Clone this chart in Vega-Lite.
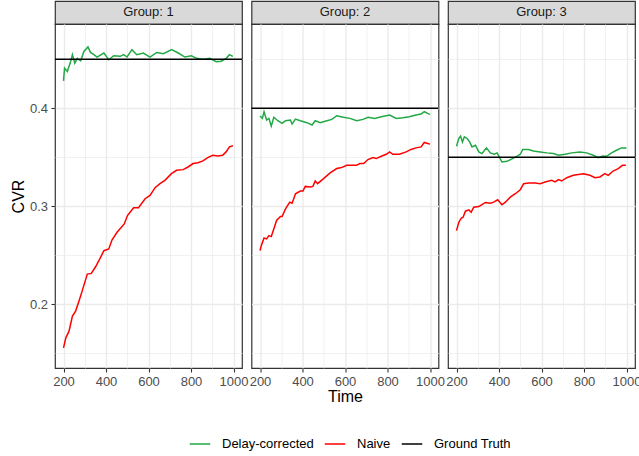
{
  "$schema": "https://vega.github.io/schema/vega-lite/v6.json",
  "background": "white",
  "padding": {"left": 9, "top": 0, "right": 4, "bottom": 5},
  "datasets": {
    "cvr": [
      {"Group":1,"Series":"Delay-corrected","Time":200,"CVR":0.428},{"Group":1,"Series":"Delay-corrected","Time":205,"CVR":0.441},{"Group":1,"Series":"Delay-corrected","Time":218,"CVR":0.4375},{"Group":1,"Series":"Delay-corrected","Time":234,"CVR":0.448},{"Group":1,"Series":"Delay-corrected","Time":242,"CVR":0.4547},{"Group":1,"Series":"Delay-corrected","Time":253,"CVR":0.446},{"Group":1,"Series":"Delay-corrected","Time":265,"CVR":0.451},{"Group":1,"Series":"Delay-corrected","Time":281,"CVR":0.4485},{"Group":1,"Series":"Delay-corrected","Time":296,"CVR":0.458},{"Group":1,"Series":"Delay-corrected","Time":315,"CVR":0.4626},{"Group":1,"Series":"Delay-corrected","Time":327,"CVR":0.457},{"Group":1,"Series":"Delay-corrected","Time":343,"CVR":0.4547},{"Group":1,"Series":"Delay-corrected","Time":358,"CVR":0.4523},{"Group":1,"Series":"Delay-corrected","Time":390,"CVR":0.4564},{"Group":1,"Series":"Delay-corrected","Time":413,"CVR":0.4495},{"Group":1,"Series":"Delay-corrected","Time":436,"CVR":0.4536},{"Group":1,"Series":"Delay-corrected","Time":467,"CVR":0.453},{"Group":1,"Series":"Delay-corrected","Time":483,"CVR":0.4547},{"Group":1,"Series":"Delay-corrected","Time":499,"CVR":0.4523},{"Group":1,"Series":"Delay-corrected","Time":522,"CVR":0.4598},{"Group":1,"Series":"Delay-corrected","Time":545,"CVR":0.4547},{"Group":1,"Series":"Delay-corrected","Time":576,"CVR":0.4564},{"Group":1,"Series":"Delay-corrected","Time":607,"CVR":0.4523},{"Group":1,"Series":"Delay-corrected","Time":639,"CVR":0.457},{"Group":1,"Series":"Delay-corrected","Time":670,"CVR":0.4557},{"Group":1,"Series":"Delay-corrected","Time":709,"CVR":0.4598},{"Group":1,"Series":"Delay-corrected","Time":740,"CVR":0.4564},{"Group":1,"Series":"Delay-corrected","Time":771,"CVR":0.4523},{"Group":1,"Series":"Delay-corrected","Time":802,"CVR":0.4536},{"Group":1,"Series":"Delay-corrected","Time":826,"CVR":0.451},{"Group":1,"Series":"Delay-corrected","Time":856,"CVR":0.45},{"Group":1,"Series":"Delay-corrected","Time":888,"CVR":0.451},{"Group":1,"Series":"Delay-corrected","Time":919,"CVR":0.4475},{"Group":1,"Series":"Delay-corrected","Time":942,"CVR":0.448},{"Group":1,"Series":"Delay-corrected","Time":966,"CVR":0.451},{"Group":1,"Series":"Delay-corrected","Time":981,"CVR":0.4547},{"Group":1,"Series":"Delay-corrected","Time":997,"CVR":0.453},
      {"Group":1,"Series":"Naive","Time":200,"CVR":0.1555},{"Group":1,"Series":"Naive","Time":211,"CVR":0.1658},{"Group":1,"Series":"Naive","Time":226,"CVR":0.1726},{"Group":1,"Series":"Naive","Time":242,"CVR":0.188},{"Group":1,"Series":"Naive","Time":257,"CVR":0.1931},{"Group":1,"Series":"Naive","Time":273,"CVR":0.2034},{"Group":1,"Series":"Naive","Time":288,"CVR":0.2137},{"Group":1,"Series":"Naive","Time":312,"CVR":0.2308},{"Group":1,"Series":"Naive","Time":331,"CVR":0.2315},{"Group":1,"Series":"Naive","Time":351,"CVR":0.2383},{"Group":1,"Series":"Naive","Time":370,"CVR":0.246},{"Group":1,"Series":"Naive","Time":390,"CVR":0.2547},{"Group":1,"Series":"Naive","Time":413,"CVR":0.2564},{"Group":1,"Series":"Naive","Time":428,"CVR":0.2656},{"Group":1,"Series":"Naive","Time":452,"CVR":0.2735},{"Group":1,"Series":"Naive","Time":486,"CVR":0.282},{"Group":1,"Series":"Naive","Time":501,"CVR":0.2906},{"Group":1,"Series":"Naive","Time":530,"CVR":0.2985},{"Group":1,"Series":"Naive","Time":553,"CVR":0.2985},{"Group":1,"Series":"Naive","Time":584,"CVR":0.3077},{"Group":1,"Series":"Naive","Time":607,"CVR":0.3111},{"Group":1,"Series":"Naive","Time":631,"CVR":0.319},{"Group":1,"Series":"Naive","Time":654,"CVR":0.3231},{"Group":1,"Series":"Naive","Time":677,"CVR":0.3265},{"Group":1,"Series":"Naive","Time":708,"CVR":0.3333},{"Group":1,"Series":"Naive","Time":732,"CVR":0.3367},{"Group":1,"Series":"Naive","Time":763,"CVR":0.3374},{"Group":1,"Series":"Naive","Time":786,"CVR":0.3401},{"Group":1,"Series":"Naive","Time":810,"CVR":0.3436},{"Group":1,"Series":"Naive","Time":833,"CVR":0.3445},{"Group":1,"Series":"Naive","Time":856,"CVR":0.3463},{"Group":1,"Series":"Naive","Time":879,"CVR":0.3497},{"Group":1,"Series":"Naive","Time":902,"CVR":0.3521},{"Group":1,"Series":"Naive","Time":926,"CVR":0.3514},{"Group":1,"Series":"Naive","Time":949,"CVR":0.3521},{"Group":1,"Series":"Naive","Time":965,"CVR":0.3555},{"Group":1,"Series":"Naive","Time":981,"CVR":0.3606},{"Group":1,"Series":"Naive","Time":997,"CVR":0.3617},
      {"Group":1,"Series":"Ground Truth","CVR":0.45},
      {"Group":2,"Series":"Delay-corrected","Time":200,"CVR":0.3921},{"Group":2,"Series":"Delay-corrected","Time":211,"CVR":0.3897},{"Group":2,"Series":"Delay-corrected","Time":219,"CVR":0.3965},{"Group":2,"Series":"Delay-corrected","Time":231,"CVR":0.388},{"Group":2,"Series":"Delay-corrected","Time":242,"CVR":0.3897},{"Group":2,"Series":"Delay-corrected","Time":253,"CVR":0.3818},{"Group":2,"Series":"Delay-corrected","Time":265,"CVR":0.3908},{"Group":2,"Series":"Delay-corrected","Time":284,"CVR":0.3873},{"Group":2,"Series":"Delay-corrected","Time":304,"CVR":0.3846},{"Group":2,"Series":"Delay-corrected","Time":320,"CVR":0.3873},{"Group":2,"Series":"Delay-corrected","Time":343,"CVR":0.388},{"Group":2,"Series":"Delay-corrected","Time":351,"CVR":0.3839},{"Group":2,"Series":"Delay-corrected","Time":367,"CVR":0.389},{"Group":2,"Series":"Delay-corrected","Time":390,"CVR":0.3873},{"Group":2,"Series":"Delay-corrected","Time":421,"CVR":0.3853},{"Group":2,"Series":"Delay-corrected","Time":445,"CVR":0.3829},{"Group":2,"Series":"Delay-corrected","Time":460,"CVR":0.3873},{"Group":2,"Series":"Delay-corrected","Time":483,"CVR":0.3853},{"Group":2,"Series":"Delay-corrected","Time":515,"CVR":0.3873},{"Group":2,"Series":"Delay-corrected","Time":538,"CVR":0.3887},{"Group":2,"Series":"Delay-corrected","Time":561,"CVR":0.3924},{"Group":2,"Series":"Delay-corrected","Time":592,"CVR":0.3908},{"Group":2,"Series":"Delay-corrected","Time":623,"CVR":0.3897},{"Group":2,"Series":"Delay-corrected","Time":655,"CVR":0.3873},{"Group":2,"Series":"Delay-corrected","Time":685,"CVR":0.3887},{"Group":2,"Series":"Delay-corrected","Time":709,"CVR":0.3908},{"Group":2,"Series":"Delay-corrected","Time":740,"CVR":0.3897},{"Group":2,"Series":"Delay-corrected","Time":771,"CVR":0.3914},{"Group":2,"Series":"Delay-corrected","Time":810,"CVR":0.3931},{"Group":2,"Series":"Delay-corrected","Time":841,"CVR":0.3897},{"Group":2,"Series":"Delay-corrected","Time":872,"CVR":0.3904},{"Group":2,"Series":"Delay-corrected","Time":903,"CVR":0.3914},{"Group":2,"Series":"Delay-corrected","Time":934,"CVR":0.3931},{"Group":2,"Series":"Delay-corrected","Time":958,"CVR":0.3941},{"Group":2,"Series":"Delay-corrected","Time":973,"CVR":0.3965},{"Group":2,"Series":"Delay-corrected","Time":989,"CVR":0.3948},{"Group":2,"Series":"Delay-corrected","Time":1000,"CVR":0.3938},
      {"Group":2,"Series":"Naive","Time":200,"CVR":0.2547},{"Group":2,"Series":"Naive","Time":206,"CVR":0.2598},{"Group":2,"Series":"Naive","Time":219,"CVR":0.2677},{"Group":2,"Series":"Naive","Time":231,"CVR":0.2667},{"Group":2,"Series":"Naive","Time":242,"CVR":0.2701},{"Group":2,"Series":"Naive","Time":253,"CVR":0.2691},{"Group":2,"Series":"Naive","Time":265,"CVR":0.2769},{"Group":2,"Series":"Naive","Time":278,"CVR":0.2855},{"Group":2,"Series":"Naive","Time":296,"CVR":0.2895},{"Group":2,"Series":"Naive","Time":304,"CVR":0.2895},{"Group":2,"Series":"Naive","Time":320,"CVR":0.2974},{"Group":2,"Series":"Naive","Time":340,"CVR":0.3042},{"Group":2,"Series":"Naive","Time":351,"CVR":0.3032},{"Group":2,"Series":"Naive","Time":367,"CVR":0.3128},{"Group":2,"Series":"Naive","Time":390,"CVR":0.3155},{"Group":2,"Series":"Naive","Time":402,"CVR":0.3155},{"Group":2,"Series":"Naive","Time":413,"CVR":0.3203},{"Group":2,"Series":"Naive","Time":436,"CVR":0.3197},{"Group":2,"Series":"Naive","Time":449,"CVR":0.3203},{"Group":2,"Series":"Naive","Time":460,"CVR":0.3258},{"Group":2,"Series":"Naive","Time":471,"CVR":0.3231},{"Group":2,"Series":"Naive","Time":499,"CVR":0.3282},{"Group":2,"Series":"Naive","Time":530,"CVR":0.334},{"Group":2,"Series":"Naive","Time":561,"CVR":0.3385},{"Group":2,"Series":"Naive","Time":584,"CVR":0.3395},{"Group":2,"Series":"Naive","Time":608,"CVR":0.3418},{"Group":2,"Series":"Naive","Time":654,"CVR":0.3418},{"Group":2,"Series":"Naive","Time":670,"CVR":0.3436},{"Group":2,"Series":"Naive","Time":688,"CVR":0.3436},{"Group":2,"Series":"Naive","Time":708,"CVR":0.3477},{"Group":2,"Series":"Naive","Time":732,"CVR":0.3497},{"Group":2,"Series":"Naive","Time":747,"CVR":0.3487},{"Group":2,"Series":"Naive","Time":771,"CVR":0.3511},{"Group":2,"Series":"Naive","Time":794,"CVR":0.3531},{"Group":2,"Series":"Naive","Time":810,"CVR":0.3555},{"Group":2,"Series":"Naive","Time":825,"CVR":0.3531},{"Group":2,"Series":"Naive","Time":856,"CVR":0.3531},{"Group":2,"Series":"Naive","Time":888,"CVR":0.3555},{"Group":2,"Series":"Naive","Time":911,"CVR":0.358},{"Group":2,"Series":"Naive","Time":934,"CVR":0.3596},{"Group":2,"Series":"Naive","Time":958,"CVR":0.3606},{"Group":2,"Series":"Naive","Time":973,"CVR":0.3651},{"Group":2,"Series":"Naive","Time":989,"CVR":0.3641},{"Group":2,"Series":"Naive","Time":1000,"CVR":0.3634},
      {"Group":2,"Series":"Ground Truth","CVR":0.40},
      {"Group":3,"Series":"Delay-corrected","Time":200,"CVR":0.3613},{"Group":3,"Series":"Delay-corrected","Time":211,"CVR":0.3692},{"Group":3,"Series":"Delay-corrected","Time":219,"CVR":0.3716},{"Group":3,"Series":"Delay-corrected","Time":228,"CVR":0.3657},{"Group":3,"Series":"Delay-corrected","Time":237,"CVR":0.3709},{"Group":3,"Series":"Delay-corrected","Time":250,"CVR":0.3692},{"Group":3,"Series":"Delay-corrected","Time":262,"CVR":0.3657},{"Group":3,"Series":"Delay-corrected","Time":273,"CVR":0.3606},{"Group":3,"Series":"Delay-corrected","Time":289,"CVR":0.3623},{"Group":3,"Series":"Delay-corrected","Time":305,"CVR":0.3555},{"Group":3,"Series":"Delay-corrected","Time":320,"CVR":0.3538},{"Group":3,"Series":"Delay-corrected","Time":341,"CVR":0.3596},{"Group":3,"Series":"Delay-corrected","Time":359,"CVR":0.3545},{"Group":3,"Series":"Delay-corrected","Time":378,"CVR":0.3531},{"Group":3,"Series":"Delay-corrected","Time":391,"CVR":0.3545},{"Group":3,"Series":"Delay-corrected","Time":403,"CVR":0.3497},{"Group":3,"Series":"Delay-corrected","Time":414,"CVR":0.3452},{"Group":3,"Series":"Delay-corrected","Time":438,"CVR":0.3459},{"Group":3,"Series":"Delay-corrected","Time":461,"CVR":0.3483},{"Group":3,"Series":"Delay-corrected","Time":484,"CVR":0.351},{"Group":3,"Series":"Delay-corrected","Time":500,"CVR":0.3531},{"Group":3,"Series":"Delay-corrected","Time":512,"CVR":0.358},{"Group":3,"Series":"Delay-corrected","Time":539,"CVR":0.358},{"Group":3,"Series":"Delay-corrected","Time":562,"CVR":0.3565},{"Group":3,"Series":"Delay-corrected","Time":594,"CVR":0.3555},{"Group":3,"Series":"Delay-corrected","Time":625,"CVR":0.3545},{"Group":3,"Series":"Delay-corrected","Time":656,"CVR":0.3538},{"Group":3,"Series":"Delay-corrected","Time":680,"CVR":0.3521},{"Group":3,"Series":"Delay-corrected","Time":711,"CVR":0.3531},{"Group":3,"Series":"Delay-corrected","Time":742,"CVR":0.3545},{"Group":3,"Series":"Delay-corrected","Time":781,"CVR":0.3555},{"Group":3,"Series":"Delay-corrected","Time":812,"CVR":0.3545},{"Group":3,"Series":"Delay-corrected","Time":844,"CVR":0.3521},{"Group":3,"Series":"Delay-corrected","Time":867,"CVR":0.3497},{"Group":3,"Series":"Delay-corrected","Time":890,"CVR":0.3514},{"Group":3,"Series":"Delay-corrected","Time":906,"CVR":0.351},{"Group":3,"Series":"Delay-corrected","Time":930,"CVR":0.3545},{"Group":3,"Series":"Delay-corrected","Time":953,"CVR":0.3572},{"Group":3,"Series":"Delay-corrected","Time":976,"CVR":0.3596},{"Group":3,"Series":"Delay-corrected","Time":1000,"CVR":0.3596},
      {"Group":3,"Series":"Naive","Time":200,"CVR":0.2752},{"Group":3,"Series":"Naive","Time":211,"CVR":0.2837},{"Group":3,"Series":"Naive","Time":222,"CVR":0.2878},{"Group":3,"Series":"Naive","Time":231,"CVR":0.2888},{"Group":3,"Series":"Naive","Time":242,"CVR":0.295},{"Group":3,"Series":"Naive","Time":258,"CVR":0.2963},{"Group":3,"Series":"Naive","Time":269,"CVR":0.2939},{"Group":3,"Series":"Naive","Time":281,"CVR":0.2991},{"Group":3,"Series":"Naive","Time":305,"CVR":0.2997},{"Group":3,"Series":"Naive","Time":320,"CVR":0.3018},{"Group":3,"Series":"Naive","Time":336,"CVR":0.3039},{"Group":3,"Series":"Naive","Time":359,"CVR":0.3032},{"Group":3,"Series":"Naive","Time":375,"CVR":0.3042},{"Group":3,"Series":"Naive","Time":394,"CVR":0.3066},{"Group":3,"Series":"Naive","Time":414,"CVR":0.3015},{"Group":3,"Series":"Naive","Time":430,"CVR":0.3042},{"Group":3,"Series":"Naive","Time":453,"CVR":0.3093},{"Group":3,"Series":"Naive","Time":477,"CVR":0.3128},{"Group":3,"Series":"Naive","Time":500,"CVR":0.3169},{"Group":3,"Series":"Naive","Time":516,"CVR":0.3231},{"Group":3,"Series":"Naive","Time":539,"CVR":0.3238},{"Group":3,"Series":"Naive","Time":570,"CVR":0.3238},{"Group":3,"Series":"Naive","Time":594,"CVR":0.3231},{"Group":3,"Series":"Naive","Time":617,"CVR":0.3248},{"Group":3,"Series":"Naive","Time":648,"CVR":0.3265},{"Group":3,"Series":"Naive","Time":664,"CVR":0.3248},{"Group":3,"Series":"Naive","Time":680,"CVR":0.3272},{"Group":3,"Series":"Naive","Time":695,"CVR":0.3258},{"Group":3,"Series":"Naive","Time":719,"CVR":0.3292},{"Group":3,"Series":"Naive","Time":750,"CVR":0.3316},{"Group":3,"Series":"Naive","Time":797,"CVR":0.3333},{"Group":3,"Series":"Naive","Time":828,"CVR":0.3316},{"Group":3,"Series":"Naive","Time":852,"CVR":0.3292},{"Group":3,"Series":"Naive","Time":875,"CVR":0.3299},{"Group":3,"Series":"Naive","Time":898,"CVR":0.3333},{"Group":3,"Series":"Naive","Time":914,"CVR":0.3316},{"Group":3,"Series":"Naive","Time":937,"CVR":0.336},{"Group":3,"Series":"Naive","Time":961,"CVR":0.3385},{"Group":3,"Series":"Naive","Time":981,"CVR":0.3418},{"Group":3,"Series":"Naive","Time":997,"CVR":0.3418},
      {"Group":3,"Series":"Ground Truth","CVR":0.35}
    ],
    "strips": [{"Group":1,"Label":"Group: 1"},{"Group":2,"Label":"Group: 2"},{"Group":3,"Label":"Group: 3"}]
  },
  "columns": 3,
  "spacing": {"row": 0, "column": 9.5},
  "bounds": "flush",
  "concat": [
    {"width":187,"height":23,"data":{"name":"strips"},"transform":[{"filter":"datum.Group === 1"}],"mark":{"type":"text","fontSize":13,"color":"#1A1A1A","baseline":"middle","align":"center","dy":-1},"encoding":{"text":{"field":"Label"}},"view":{"fill":"#D9D9D9","stroke":"#333333","strokeWidth":1.2}},
    {"width":187,"height":23,"data":{"name":"strips"},"transform":[{"filter":"datum.Group === 2"}],"mark":{"type":"text","fontSize":13,"color":"#1A1A1A","baseline":"middle","align":"center","dy":-1},"encoding":{"text":{"field":"Label"}},"view":{"fill":"#D9D9D9","stroke":"#333333","strokeWidth":1.2}},
    {"width":187,"height":23,"data":{"name":"strips"},"transform":[{"filter":"datum.Group === 3"}],"mark":{"type":"text","fontSize":13,"color":"#1A1A1A","baseline":"middle","align":"center","dy":-1},"encoding":{"text":{"field":"Label"}},"view":{"fill":"#D9D9D9","stroke":"#333333","strokeWidth":1.2}},
    {
      "width":187,"height":344,"data":{"name":"cvr"},
      "transform":[{"filter":"datum.Group === 1"}],
      "view":{"stroke":"#333333","strokeWidth":1.2},
      "layer":[
        {"transform":[{"filter":"datum.Series !== 'Ground Truth'"}],"mark":{"type":"line","strokeWidth":1.5},
         "encoding":{
           "x":{"field":"Time","type":"quantitative","scale":{"domain":[160,1040],"nice":false,"zero":false},
                "axis":{"title":null,"values":[200,300,400,500,600,700,800,900,1000],"format":"d","labelExpr":"datum.value % 200 === 0 ? datum.label : ''","gridWidth":{"condition":{"test":"datum.value % 200 === 0","value":1.4},"value":0.7},"tickOpacity":{"condition":{"test":"datum.value % 200 === 0","value":1},"value":0},"labelFlush":false,"labelOverlap":false}},
           "y":{"field":"CVR","type":"quantitative","scale":{"domain":[0.135,0.486],"nice":false,"zero":false},
                "axis":{"title":"CVR","values":[0.15,0.2,0.25,0.3,0.35,0.4,0.45],"format":".1f","labelExpr":"abs(datum.value*10 - round(datum.value*10)) < 0.000001 ? datum.label : ''","gridWidth":{"condition":{"test":"abs(datum.value*10 - round(datum.value*10)) < 0.000001","value":1.4},"value":0.7},"tickOpacity":{"condition":{"test":"abs(datum.value*10 - round(datum.value*10)) < 0.000001","value":1},"value":0},"labelFlush":false,"labelOverlap":false}},
           "color":{"field":"Series","type":"nominal","scale":{"domain":["Delay-corrected","Naive","Ground Truth"],"range":["#22A845","#FF0000","#000000"]}}
         }},
        {"transform":[{"filter":"datum.Series === 'Ground Truth'"}],"mark":{"type":"rule","strokeWidth":1.5},
         "encoding":{"y":{"field":"CVR","type":"quantitative"},"color":{"field":"Series","type":"nominal"}}}
      ]
    },
    {
      "width":187,"height":344,"data":{"name":"cvr"},
      "transform":[{"filter":"datum.Group === 2"}],
      "view":{"stroke":"#333333","strokeWidth":1.2},
      "layer":[
        {"transform":[{"filter":"datum.Series !== 'Ground Truth'"}],"mark":{"type":"line","strokeWidth":1.5},
         "encoding":{
           "x":{"field":"Time","type":"quantitative","scale":{"domain":[160,1040],"nice":false,"zero":false},
                "axis":{"title":"Time","values":[200,300,400,500,600,700,800,900,1000],"format":"d","labelExpr":"datum.value % 200 === 0 ? datum.label : ''","gridWidth":{"condition":{"test":"datum.value % 200 === 0","value":1.4},"value":0.7},"tickOpacity":{"condition":{"test":"datum.value % 200 === 0","value":1},"value":0},"labelFlush":false,"labelOverlap":false}},
           "y":{"field":"CVR","type":"quantitative","scale":{"domain":[0.135,0.486],"nice":false,"zero":false},
                "axis":{"title":null,"values":[0.15,0.2,0.25,0.3,0.35,0.4,0.45],"labels":false,"ticks":false,"gridWidth":{"condition":{"test":"abs(datum.value*10 - round(datum.value*10)) < 0.000001","value":1.4},"value":0.7}}},
           "color":{"field":"Series","type":"nominal","scale":{"domain":["Delay-corrected","Naive","Ground Truth"],"range":["#22A845","#FF0000","#000000"]}}
         }},
        {"transform":[{"filter":"datum.Series === 'Ground Truth'"}],"mark":{"type":"rule","strokeWidth":1.5},
         "encoding":{"y":{"field":"CVR","type":"quantitative"},"color":{"field":"Series","type":"nominal"}}}
      ]
    },
    {
      "width":187,"height":344,"data":{"name":"cvr"},
      "transform":[{"filter":"datum.Group === 3"}],
      "view":{"stroke":"#333333","strokeWidth":1.2},
      "layer":[
        {"transform":[{"filter":"datum.Series !== 'Ground Truth'"}],"mark":{"type":"line","strokeWidth":1.5},
         "encoding":{
           "x":{"field":"Time","type":"quantitative","scale":{"domain":[160,1040],"nice":false,"zero":false},
                "axis":{"title":null,"values":[200,300,400,500,600,700,800,900,1000],"format":"d","labelExpr":"datum.value % 200 === 0 ? datum.label : ''","gridWidth":{"condition":{"test":"datum.value % 200 === 0","value":1.4},"value":0.7},"tickOpacity":{"condition":{"test":"datum.value % 200 === 0","value":1},"value":0},"labelFlush":false,"labelOverlap":false}},
           "y":{"field":"CVR","type":"quantitative","scale":{"domain":[0.135,0.486],"nice":false,"zero":false},
                "axis":{"title":null,"values":[0.15,0.2,0.25,0.3,0.35,0.4,0.45],"labels":false,"ticks":false,"gridWidth":{"condition":{"test":"abs(datum.value*10 - round(datum.value*10)) < 0.000001","value":1.4},"value":0.7}}},
           "color":{"field":"Series","type":"nominal","scale":{"domain":["Delay-corrected","Naive","Ground Truth"],"range":["#22A845","#FF0000","#000000"]}}
         }},
        {"transform":[{"filter":"datum.Series === 'Ground Truth'"}],"mark":{"type":"rule","strokeWidth":1.5},
         "encoding":{"y":{"field":"CVR","type":"quantitative"},"color":{"field":"Series","type":"nominal"}}}
      ]
    }
  ],
  "config": {
    "font": "Liberation Sans",
    "axis": {"domain": false, "gridColor": "#EBEBEB", "tickColor": "#333333", "tickSize": 4, "tickWidth": 1.1, "labelColor": "#4D4D4D", "labelFontSize": 13, "titleFontSize": 16, "titleFontWeight": "normal", "titleColor": "#000000"},
    "axisY": {"titlePadding": 3, "labelPadding": 3.5},
    "axisX": {"titlePadding": 0, "labelPadding": 3},
    "legend": {"orient": "none", "legendX": 134, "legendY": 432, "direction": "horizontal", "title": null, "symbolType": "stroke", "symbolSize": 420, "symbolStrokeWidth": 1.5, "labelFontSize": 13, "labelColor": "#000000", "labelOffset": 11, "columnPadding": 7}
  }
}
